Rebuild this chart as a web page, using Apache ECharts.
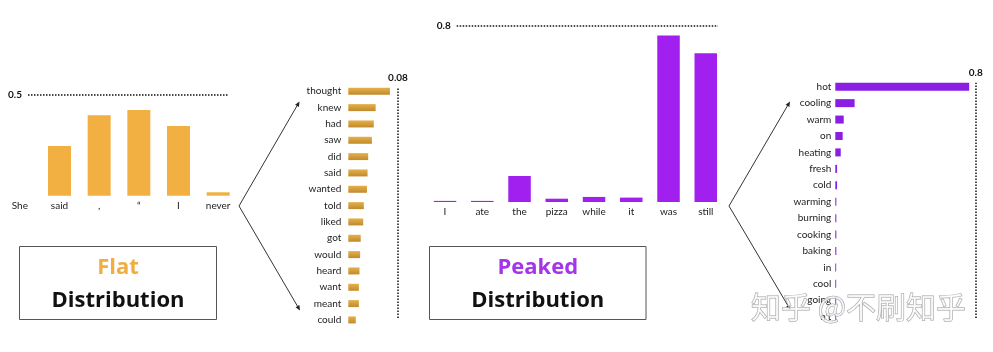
<!DOCTYPE html>
<html>
<head>
<meta charset="utf-8">
<script src="https://cdn.jsdelivr.net/npm/echarts@6/dist/echarts.min.js"></script>
<style>
  html, body { margin: 0; padding: 0; background: #fff; }
  #main { width: 993px; height: 352px; }
</style>
</head>
<body>
<div id="main"></div>
<script>
// flat: sentence tokens
const flatWords = ['She', 'said', ',', '“', 'I', 'never'];
const flatProbs = [0, 0.247, 0.40, 0.425, 0.346, 0.017];
// flat: next-word candidates
const flatNext = ['thought', 'knew', 'had', 'saw', 'did', 'said', 'wanted', 'told', 'liked', 'got', 'would', 'heard', 'want', 'meant', 'could'];
const flatNextProbs = [0.067, 0.044, 0.041, 0.038, 0.032, 0.031, 0.030, 0.025, 0.024, 0.020, 0.019, 0.018, 0.017, 0.017, 0.012];
// peaked: sentence tokens
const peakWords = ['I', 'ate', 'the', 'pizza', 'while', 'it', 'was', 'still'];
const peakProbs = [0.005, 0.005, 0.118, 0.015, 0.023, 0.020, 0.755, 0.675];
// peaked: next-word candidates
const peakNext = ['hot', 'cooling', 'warm', 'on', 'heating', 'fresh', 'cold', 'warming', 'burning', 'cooking', 'baking', 'in', 'cool', 'going', "n't"];
const peakNextProbs = [0.763, 0.11, 0.048, 0.042, 0.031, 0.010, 0.010, 0.006, 0.006, 0.006, 0.006, 0.005, 0.005, 0.005, 0.005];
// reference lines (dotted) and their labels
const refMax = [0.5, 0.08, 0.8, 0.8];
const refTicks = ['0.5', '0.08', '0.8', '0.8'];

const chart = echarts.init(document.getElementById('main'));

const labelFont = { fontFamily: 'Lato', fontSize: 10, color: '#222' };
const orange = '#F2B042';
const gold = new echarts.graphic.LinearGradient(0, 0, 0, 1, [
  { offset: 0, color: '#E6B04A' },
  { offset: 1, color: '#BF8A2C' }
]);
const purple = '#A11FEF';
const violet = '#8A1FE3';

function catAxis(gridIndex, data, margin, inverse) {
  return {
    type: 'category', gridIndex, data, inverse: !!inverse,
    axisLine: { show: false }, axisTick: { show: false },
    axisLabel: Object.assign({ margin, interval: 0 }, labelFont)
  };
}
function valAxis(gridIndex, max) {
  return { type: 'value', gridIndex, min: 0, max, show: false };
}
function refLine(idx, horizontal) {
  const item = horizontal ? { yAxis: refMax[idx] } : { xAxis: refMax[idx] };
  return {
    type: 'line', data: [], xAxisIndex: 4 + idx, yAxisIndex: 4 + idx, silent: true,
    markLine: {
      silent: true, symbol: ['none', 'none'], animation: false,
      lineStyle: { type: 'dotted', color: '#111', width: 1.5 },
      label: {
        show: true, position: horizontal ? 'start' : 'end', distance: horizontal ? 6 : 5,
        formatter: refTicks[idx], fontFamily: 'Lato', fontWeight: 'bold', fontSize: 10, color: '#111'
      },
      emphasis: { disabled: true },
      data: [item]
    }
  };
}

// arrow: line + small head
function arrow(from, to) {
  const dx = to[0] - from[0], dy = to[1] - from[1];
  const len = Math.sqrt(dx * dx + dy * dy);
  const ux = dx / len, uy = dy / len;
  const bx = to[0] - ux * 5, by = to[1] - uy * 5;
  return [
    { type: 'line', shape: { x1: from[0], y1: from[1], x2: bx, y2: by }, style: { stroke: '#333', lineWidth: 1 } },
    { type: 'polygon', shape: { points: [to, [bx - uy * 2.2, by + ux * 2.2], [bx + uy * 2.2, by - ux * 2.2]] }, style: { fill: '#222' } }
  ];
}
function box(x, y, w, h, word, color) {
  const cx = x + w / 2;
  return [
    { type: 'rect', shape: { x, y, width: w, height: h }, style: { fill: '#fff', stroke: '#555', lineWidth: 1 } },
    { type: 'text', x: cx, y: y + 21, style: { text: word, fill: color, font: 'bold 22px "Open Sans"', align: 'center', verticalAlign: 'middle' } },
    { type: 'text', x: cx, y: y + 54, style: { text: 'Distribution', fill: '#111', font: 'bold 22px "Open Sans"', align: 'center', verticalAlign: 'middle' } }
  ];
}

const option = {
  animation: false,
  grid: [
    { left: 0, width: 238, top: 95, height: 100.7 },
    { left: 348.3, width: 49.7, top: 83.1, height: 245 },
    { left: 426.4, width: 298, top: 25.7, height: 176.3 },
    { left: 835.3, width: 140.4, top: 78.5, height: 246.4 },
    // overlays for dotted reference lines
    { left: 28, width: 200, top: 95, height: 100.7 },
    { left: 348.3, width: 49.7, top: 88, height: 230 },
    { left: 456.7, width: 261.3, top: 25.7, height: 176.3 },
    { left: 835.3, width: 140.4, top: 82.7, height: 235.3 }
  ],
  xAxis: [
    catAxis(0, flatWords, 5),
    valAxis(1, refMax[1]),
    catAxis(2, peakWords, 5),
    valAxis(3, refMax[3]),
    valAxis(4, 1),
    valAxis(5, refMax[1]),
    valAxis(6, 1),
    valAxis(7, refMax[3])
  ],
  yAxis: [
    valAxis(0, refMax[0]),
    catAxis(1, flatNext, 7, true),
    valAxis(2, refMax[2]),
    catAxis(3, peakNext, 4, true),
    valAxis(4, refMax[0]),
    valAxis(5, 1),
    valAxis(6, refMax[2]),
    valAxis(7, 1)
  ],
  series: [
    { type: 'bar', xAxisIndex: 0, yAxisIndex: 0, data: flatProbs, barWidth: 23, itemStyle: { color: orange } },
    { type: 'bar', xAxisIndex: 1, yAxisIndex: 1, data: flatNextProbs, barWidth: 7, itemStyle: { color: gold } },
    { type: 'bar', xAxisIndex: 2, yAxisIndex: 2, data: peakProbs, barWidth: 22.5, itemStyle: { color: purple } },
    { type: 'bar', xAxisIndex: 3, yAxisIndex: 3, data: peakNextProbs, barWidth: 8, itemStyle: { color: violet } },
    refLine(0, true),
    refLine(1, false),
    refLine(2, true),
    refLine(3, false)
  ],
  graphic: [].concat(
    arrow([239, 206], [299.5, 101.5]),
    arrow([239, 206], [300, 310.5]),
    arrow([729, 206], [790, 101.5]),
    arrow([729, 206], [790.5, 310]),
    box(19.5, 246.5, 197, 73, 'Flat', '#F0AE3E'),
    box(429.5, 246.5, 216.5, 73, 'Peaked', '#A335EA'),
    [{
      type: 'text', x: 751, y: 307, z: 100,
      style: {
        text: '知乎 @不刷知乎', font: '30px "Noto Sans CJK SC"', verticalAlign: 'middle',
        fill: 'rgba(255,255,255,0.7)', stroke: '#a0a0a0', lineWidth: 1
      }
    }]
  )
};

chart.setOption(option);
window.addEventListener('resize', () => chart.resize());
</script>
</body>
</html>
